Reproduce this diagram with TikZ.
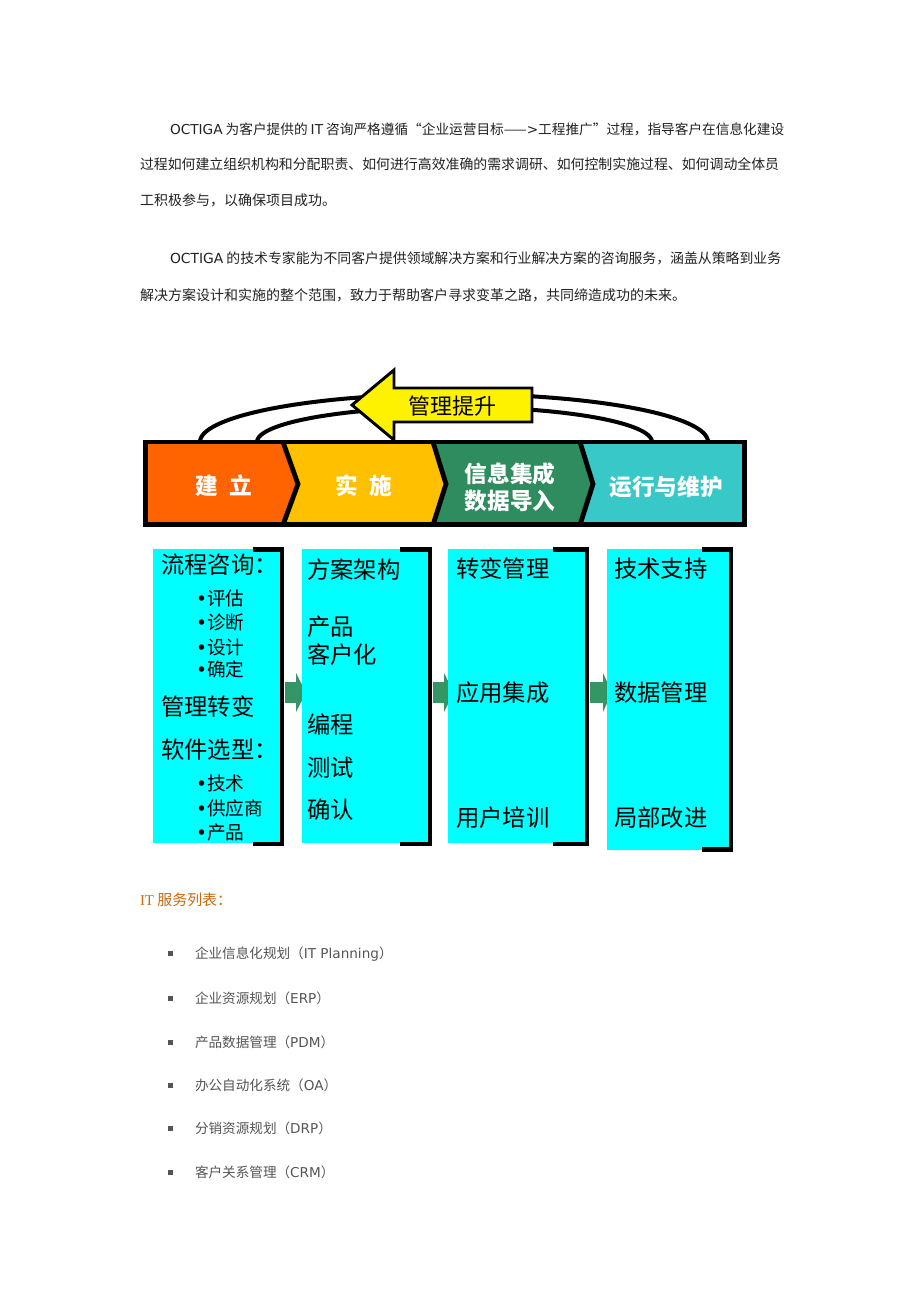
\documentclass[tikz,border=0pt]{standalone}
\usepackage{fontspec}
\newfontfamily\cjk{Noto Sans CJK SC}
\newfontfamily\lat{DejaVu Sans}
\newfontfamily\latserif{Liberation Serif}
\definecolor{corange}{HTML}{FF6400}
\definecolor{cgold}{HTML}{FFC000}
\definecolor{cgreen}{HTML}{2F8C5E}
\definecolor{cteal}{HTML}{38C8C8}
\definecolor{cyanbox}{HTML}{00FFFF}
\definecolor{arrgreen}{HTML}{349565}
\definecolor{titleorange}{HTML}{CC6A10}
\definecolor{listgray}{HTML}{555555}
\definecolor{paratext}{HTML}{222222}
\begin{document}
\begin{tikzpicture}[x=0.75pt,y=-0.75pt,
  every node/.style={inner sep=0pt,outer sep=0pt},
  para/.style={anchor=base west,font=\cjk\fontsize{10.5}{12}\selectfont,text=paratext},
  chev/.style={font=\cjk\bfseries\fontsize{17}{20.25}\selectfont,text=white,align=center},
  bt/.style={anchor=west,font=\cjk\fontsize{17.5}{20}\selectfont},
  bi/.style={anchor=west,font=\cjk\fontsize{14}{16}\selectfont},
  cbox/.style={fill=cyanbox},
  brk/.style={line width=3.6pt},
  garrow/.style={fill=arrgreen},
  arcline/.style={line width=3pt},
  sepline/.style={line width=3.6pt,line join=miter},
  li/.style={anchor=base west,font=\cjk\fontsize{10.2}{12}\selectfont,text=listgray},
]
\fill[white] (0,0) rectangle (920,1302);
\useasboundingbox (0,0) rectangle (920,1302);

% ---------- paragraphs ----------
\node[para,font=\cjk\fontsize{10.25}{12}\selectfont] (p1a) at (170,135) {{\lat OCTIGA} 为客户提供的 {\lat IT} 咨询严格遵循“企业运营目标——{\lat >}工程推广”过程，指导客户在信息化建设};
\node[para,font=\cjk\fontsize{10.42}{12}\selectfont] (p1b) at (140,170) {过程如何建立组织机构和分配职责、如何进行高效准确的需求调研、如何控制实施过程、如何调动全体员};
\node[para] (p1c) at (140,205) {工积极参与，以确保项目成功。};
\node[para,font=\cjk\fontsize{10.4}{12}\selectfont] (p2a) at (170,263) {{\lat OCTIGA} 的技术专家能为不同客户提供领域解决方案和行业解决方案的咨询服务，涵盖从策略到业务};
\node[para] (p2b) at (140,300) {解决方案设计和实施的整个范围，致力于帮助客户寻求变革之路，共同缔造成功的未来。};

% ---------- arcs ----------
\draw[arcline] plot[domain=180:360,samples=90] ({454+254*cos(\x)},{442+48*sin(\x)});
\draw[arcline] plot[domain=180:360,samples=90] ({454.5+197.5*cos(\x)},{442+35*sin(\x)});

% ---------- yellow arrow ----------
\draw[line width=2.2pt,fill=yellow,line join=miter] (352,405) -- (394,370) -- (394,388) -- (532,388) -- (532,422) -- (394,422) -- (394,440) -- cycle;
\node[font=\cjk\fontsize{16.5}{18}\selectfont] (mgmt) at (452,406) {管理提升};

% ---------- chevron bar ----------
\fill[corange] (146,442) -- (283,442) -- (298,484) -- (283,526) -- (146,526) -- cycle;
\fill[cgold] (283,442) -- (433,442) -- (446,484) -- (433,526) -- (283,526) -- (298,484) -- cycle;
\fill[cgreen] (433,442) -- (580,442) -- (593,484) -- (580,526) -- (433,526) -- (446,484) -- cycle;
\fill[cteal] (580,442) -- (744,442) -- (744,526) -- (580,526) -- (593,484) -- cycle;
\draw[sepline] (283,442) -- (298,484) -- (283,525);
\draw[sepline] (433,442) -- (446,484) -- (433,525);
\draw[sepline] (580,442) -- (593,484) -- (580,525);
\draw[line width=3.4pt] (145.5,442) rectangle (744.5,524.5);

\node[chev] (c1) at (224,486) {建\hspace{9pt}立};
\node[chev] (c2) at (364,486) {实\hspace{9pt}施};
\node[chev] (c3) at (510,487) {信息集成\\数据导入};
\node[chev] (c4) at (666,487) {运行与维护};

% ---------- green block arrows ----------
\fill[garrow] (285,682) rectangle (296,703);
\fill[garrow] (296,673) -- (306,692.5) -- (296,712) -- cycle;
\fill[garrow] (433,682) rectangle (444,703);
\fill[garrow] (444,673) -- (454,692.5) -- (444,712) -- cycle;
\fill[garrow] (590,682) rectangle (603,703);
\fill[garrow] (603,673) -- (612,692.5) -- (603,712) -- cycle;

% ---------- cyan boxes ----------
\fill[cbox] (153,549) rectangle (281,843);
\fill[cbox] (302,549) rectangle (428,843);
\fill[cbox] (448,549) rectangle (586,843);
\fill[cbox] (607,549) rectangle (730,850);
\draw[brk] (253,549.5) -- (282,549.5) -- (282,844) -- (253,844);
\draw[brk] (400,549.5) -- (430,549.5) -- (430,844) -- (400,844);
\draw[brk] (553,549.5) -- (587,549.5) -- (587,844) -- (553,844);
\draw[brk] (702,549.5) -- (731,549.5) -- (731,849.5) -- (702,849.5);

% box 1
\node[bt] (b1a) at (161,565) {流程咨询：};
\node[bi] (b1b) at (196,598) {{\lat •}评估};
\node[bi] (b1c) at (196,622) {{\lat •}诊断};
\node[bi] (b1d) at (196,647) {{\lat •}设计};
\node[bi] (b1e) at (196,669) {{\lat •}确定};
\node[bt] (b1f) at (161,707) {管理转变};
\node[bt] (b1g) at (161,750) {软件选型：};
\node[bi] (b1h) at (196,783) {{\lat •}技术};
\node[bi] (b1i) at (196,808) {{\lat •}供应商};
\node[bi] (b1j) at (196,832) {{\lat •}产品};
% box 2
\node[bt] (b2a) at (307,570) {方案架构};
\node[bt] (b2b) at (307,627) {产品};
\node[bt] (b2c) at (307,655) {客户化};
\node[bt] (b2d) at (307,725) {编程};
\node[bt] (b2e) at (307,768) {测试};
\node[bt] (b2f) at (307,810) {确认};
% box 3
\node[bt] (b3a) at (456,569) {转变管理};
\node[bt] (b3b) at (456,693) {应用集成};
\node[bt] (b3c) at (456,818) {用户培训};
% box 4
\node[bt] (b4a) at (614,569) {技术支持};
\node[bt] (b4b) at (614,693) {数据管理};
\node[bt] (b4c) at (614,818) {局部改进};

% ---------- list ----------
\node[anchor=base west,font=\cjk\fontsize{11.2}{12}\selectfont,text=titleorange] (title) at (140,905) {{\latserif IT} 服务列表：};
\foreach \yy/\txt [count=\i] in {
  953/{企业信息化规划（{\lat IT Planning}）},
  998/{企业资源规划（{\lat ERP}）},
  1042/{产品数据管理（{\lat PDM}）},
  1085/{办公自动化系统（{\lat OA}）},
  1128/{分销资源规划（{\lat DRP}）},
  1172/{客户关系管理（{\lat CRM}）}}{
  \fill[listgray] (168,\yy-2.5) rectangle (173,\yy+2.5);
  \node[li] (item\i) at (195,\yy+5) {\txt};
}
\end{tikzpicture}
\end{document}
